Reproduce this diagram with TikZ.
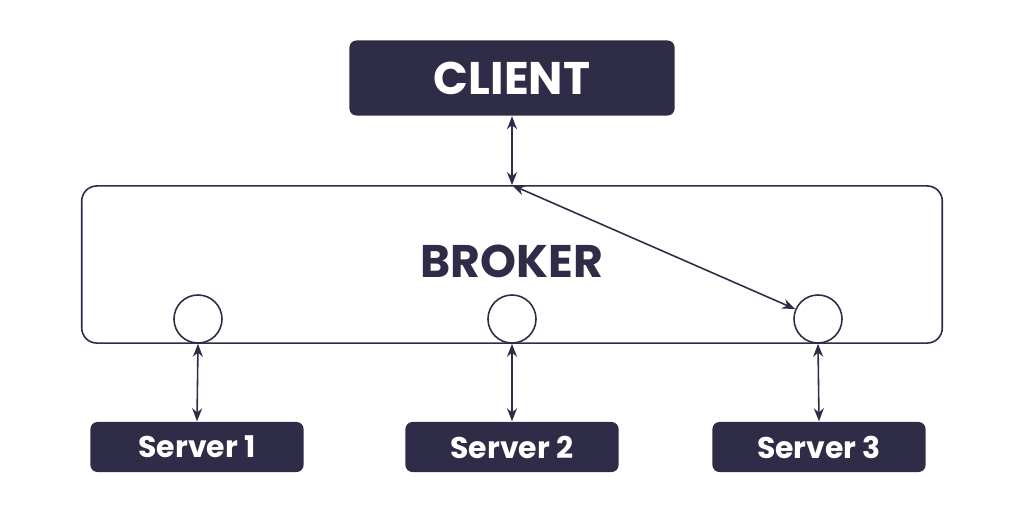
\documentclass[tikz,border=0pt]{standalone}
\usepackage{fontspec}
\setmainfont{Poppins}
\usetikzlibrary{calc, positioning}
\usetikzlibrary{arrows.meta}
\definecolor{navy}{RGB}{46,44,70}

\begin{document}
\begin{tikzpicture}[x=0.01cm, y=-0.01cm,
        darkbox/.style={rectangle, fill=navy, text=white, rounded corners=0.07cm, inner sep=0pt, font=\bfseries},
        port/.style={circle, draw=navy, line width=0.45pt, fill=white, minimum size=0.48cm, inner sep=0pt},
        link/.style={{Stealth[length=1.3mm,width=1mm]}-{Stealth[length=1.3mm,width=1mm]}, draw=navy, line width=0.45pt}]
        \useasboundingbox (0,0) rectangle (1024,512);
        %\draw (0,0) rectangle (1024,512);
        
        \node[darkbox, minimum width=3.25cm, minimum height=0.75cm, font=\bfseries\fontsize{13}{15}\selectfont] (client) at (512,78) {CLIENT};
        \node[rectangle, draw=navy, line width=0.45pt, rounded corners=0.15cm, minimum width=8.6cm, minimum height=1.57cm] (broker) at (512,264.5) {};
        \node[text=navy, inner sep=0pt, font=\bfseries\fontsize{13}{15}\selectfont] (brokertext) at (512,261.5) {BROKER};
        
        \node[port] (p1) at (198,319) {};
        \node[port] (p2) at (512,319) {};
        \node[port] (p3) at (818,319) {};
        
        \node[darkbox, minimum width=2.13cm, minimum height=0.5cm, font=\bfseries\fontsize{8.5}{10}\selectfont] (s1) at (197,447) {Server 1};
        \node[darkbox, minimum width=2.13cm, minimum height=0.5cm, font=\bfseries\fontsize{8.5}{10}\selectfont] (s2) at (512,447) {Server 2};
        \node[darkbox, minimum width=2.13cm, minimum height=0.5cm, font=\bfseries\fontsize{8.5}{10}\selectfont] (s3) at (819,447) {Server 3};
        
        \draw[link] (client.south) -- (broker.north);
        \draw[link] (broker.north) -- (p3);
        \draw[link] (p1.south) -- (s1.north);
        \draw[link] (p2.south) -- (s2.north);
        \draw[link] (p3.south) -- (s3.north);
\end{tikzpicture}
\end{document}
